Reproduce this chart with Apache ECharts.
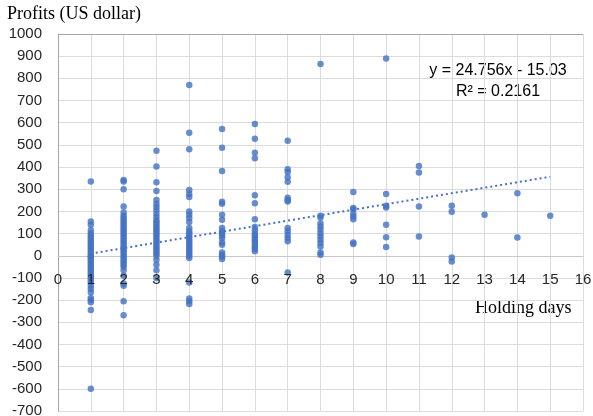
<!DOCTYPE html>
<html>
<head>
<meta charset="utf-8">
<script src="https://cdn.jsdelivr.net/npm/echarts@6/dist/echarts.min.js"></script>
<style>html,body{margin:0;padding:0;background:#fff;}#c{width:593px;height:416px;}</style>
</head>
<body>
<div id="c"></div>
<script>
// Holding days (x) and profits (y), grouped by holding day
const days1 = [335, 155, 140, 115, 100, 90, 80, 70, 60, 50, 40, 30, 20, 10, 0, -5, -10, -20, -30, -40, -50, -60, -70, -80, -90, -100, -110, -120, -135, -150, -165, -190, -200, -210, -245, -600];
const days2 = [342, 335, 300, 222, 195, 180, 170, 160, 150, 140, 130, 120, 110, 100, 90, 80, 70, 60, 50, 40, 30, 20, 10, 0, -10, -20, -30, -40, -50, -65, -90, -125, -135, -205, -268];
const days3 = [474, 402, 331, 292, 252, 235, 220, 205, 190, 175, 160, 150, 140, 130, 120, 110, 100, 90, 80, 70, 60, 50, 40, 30, 20, 10, 0, -18, -40, -65, -100];
const days4 = [770, 555, 480, 297, 278, 265, 200, 185, 170, 152, 125, 110, 100, 90, 80, 70, 60, 50, 40, 30, 20, 10, 0, -10, -120, -193, -205, -218];
const days5 = [572, 487, 382, 244, 234, 185, 162, 125, 110, 100, 90, 80, 60, 50, 15, 5, -3, -15];
const days6 = [594, 528, 465, 440, 273, 237, 165, 130, 115, 100, 90, 80, 70, 60, 50, 40, 30, 20];
const days7 = [519, 390, 378, 354, 334, 262, 252, 245, 125, 110, 95, 80, 65, -75];
const days8 = [865, 180, 172, 147, 132, 117, 102, 87, 72, 57, 42, 15, 5];
const days9 = [287, 215, 210, 189, 177, 165, 60, 53];
const days10 = [890, 279, 225, 218, 140, 84, 39];
const days11 = [405, 375, 222, 87];
const days12 = [226, 198, -8, -26];
const days13 = [185];
const days14 = [282, 82];
const days15 = [181];
const groups = [days1, days2, days3, days4, days5, days6, days7, days8, days9, days10, days11, days12, days13, days14, days15];

// Linear trendline y = 24.756x - 15.03, endpoints at x = 1 and x = 15
const trendX = [1, 15];
const trendY = [9.726, 356.31];
const trendLabel = ['y = 24.756x - 15.03', 'R\u00B2 = 0.2161'];

const yTitle = 'Profits (US dollar)';
const xTitle = 'Holding days';

const yMin = -700, yMax = 1000;
const points = [];
groups.forEach((g, i) => g.forEach(v => points.push([i + 1, v])));
const trend = trendX.map((x, i) => [x, trendY[i]]);

const gridTop = 34, gridBottom = 5, H = 416;
const plotH = H - gridTop - gridBottom;
const zeroOffset = -plotH * (0 - yMin) / (yMax - yMin);

const chart = echarts.init(document.getElementById('c'));
const tickFont = {fontFamily: 'Liberation Sans', fontSize: 15, color: '#262626'};
chart.setOption({
  animation: false,
  grid: {left: 58, right: 10, top: gridTop, bottom: gridBottom, containLabel: false, outerBoundsMode: 'none'},
  xAxis: [{
    type: 'value', min: 0, max: 16, interval: 1, position: 'bottom',
    offset: zeroOffset,
    axisLine: {show: true, onZero: false, lineStyle: {color: '#c8c8c8', width: 1}},
    axisTick: {show: false},
    axisLabel: {show: false},
    splitLine: {show: true, lineStyle: {color: '#dcdcdc', width: 1}}
  }, {
    type: 'value', min: 0, max: 16, interval: 1, position: 'bottom',
    offset: zeroOffset, z: 10,
    axisLine: {show: false, onZero: false},
    axisTick: {show: false},
    axisLabel: Object.assign({margin: 17}, tickFont),
    splitLine: {show: false}
  }],
  yAxis: {
    type: 'value', min: yMin, max: yMax, interval: 100,
    axisLine: {show: true, onZero: false, lineStyle: {color: '#a6a6a6'}},
    axisTick: {show: false},
    axisLabel: Object.assign({margin: 16, formatter: v => String(v)}, tickFont),
    splitLine: {show: true, lineStyle: {color: '#dcdcdc', width: 1}}
  },
  graphic: [
    {type: 'line', shape: {x1: 58, y1: 34.5, x2: 583, y2: 34.5}, style: {stroke: '#a6a6a6', lineWidth: 1}, z: 10},
    {type: 'text', left: 7, top: 5, style: {text: yTitle, font: '18px "Liberation Serif"', fill: '#000'}},
    {type: 'text', left: 475, top: 299, style: {text: xTitle, font: '18px "Liberation Serif"', fill: '#000'}},
    {type: 'text', x: 498, y: 71, style: {text: trendLabel[0], font: '16px "Liberation Sans"', fill: '#000', align: 'center', verticalAlign: 'middle'}},
    {type: 'text', x: 498, y: 92, style: {text: trendLabel[1], font: '16px "Liberation Sans"', fill: '#000', align: 'center', verticalAlign: 'middle'}}
  ],
  series: [{
    type: 'scatter', xAxisIndex: 0, data: points, symbolSize: 6.5,
    itemStyle: {color: '#4472C4'}
  }, {
    type: 'line', xAxisIndex: 0, data: trend, showSymbol: false, symbol: 'none',
    lineStyle: {color: '#4472C4', width: 2, type: [2, 3]}
  }]
});
</script>
</body>
</html>
